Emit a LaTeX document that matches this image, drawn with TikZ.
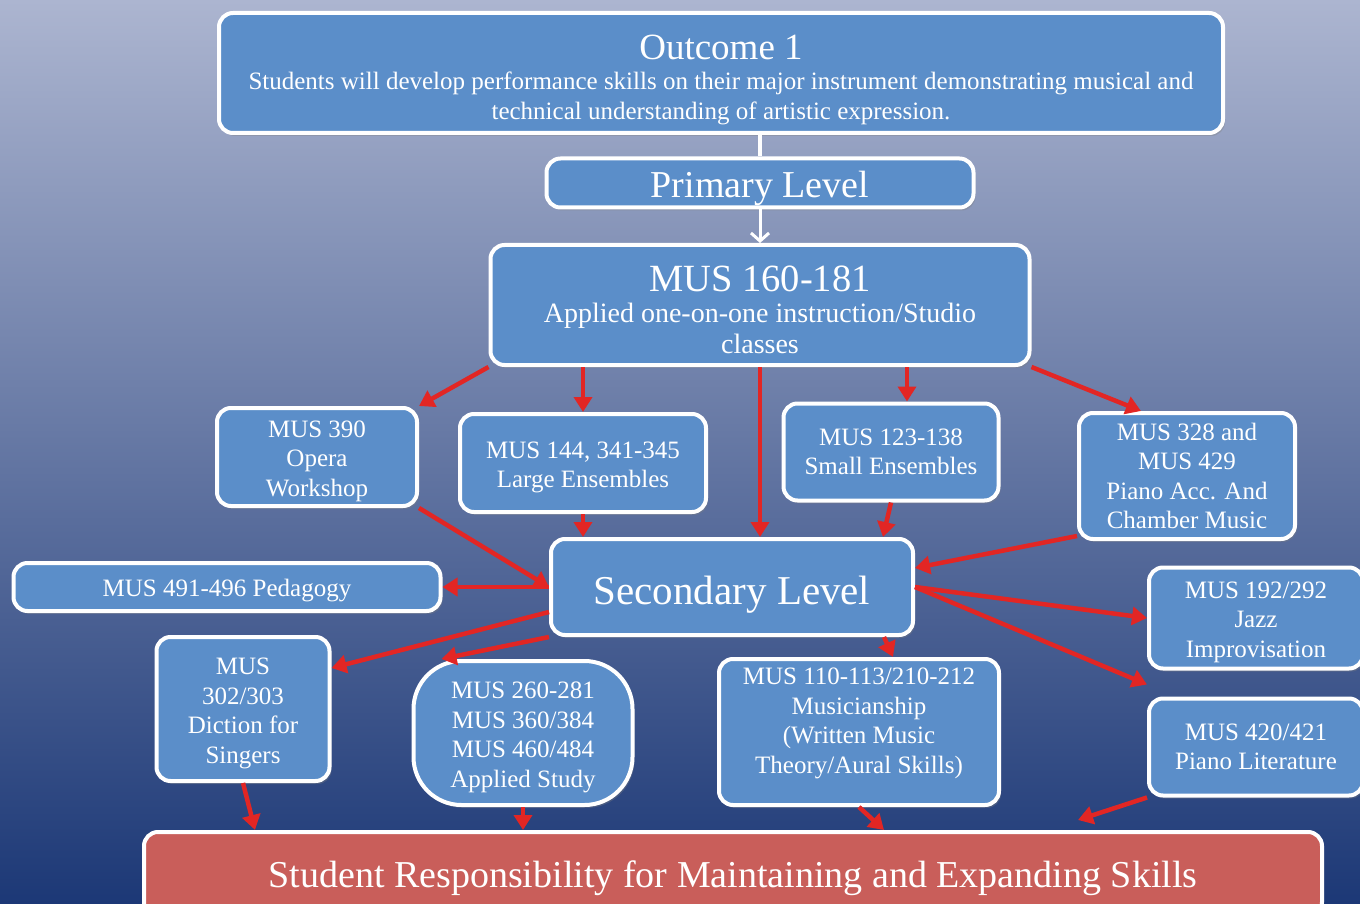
\documentclass[tikz,border=0pt]{standalone}
\usepackage{fontspec}
\setmainfont{Liberation Serif}
\usetikzlibrary{arrows.meta,shadows}
\definecolor{boxblue}{RGB}{91,142,201}
\definecolor{boxred}{RGB}{201,94,90}
\definecolor{arrowred}{RGB}{226,38,36}
\definecolor{bgtop}{RGB}{172,181,208}
\definecolor{bgmid}{RGB}{112,131,177}
\definecolor{bgbot}{RGB}{28,56,118}
\newcommand{\topstrut}{\rule{0pt}{25pt}}

\begin{document}
\begin{tikzpicture}[x=1pt, y=-1pt,
  course/.style={draw=white, line width=4pt, fill=boxblue, rounded corners=14pt,
    text=white, align=center, inner sep=0pt, font=\fontsize{25}{29.5}\selectfont,
    drop shadow={shadow xshift=2pt, shadow yshift=-3pt, opacity=0.35}},
  redarrow/.style={draw=arrowred, line width=4.5pt, -{Triangle[length=15pt,width=18pt]}},
  whiteline/.style={draw=white, line width=4pt}]

  \useasboundingbox (0,0) rectangle (1360,904);
  \clip (0,0) rectangle (1360,904);
  \shade[top color=bgtop, middle color=bgmid, bottom color=bgbot] (0,0) rectangle (1360,904);

  \node[course, minimum width=1004pt, minimum height=120pt, font=\fontsize{25}{30}\selectfont] (outcome) at (721,73)
    {{\fontsize{37}{40}\selectfont\rule{0pt}{38pt}Outcome 1}\\
     Students will develop performance skills on their major instrument demonstrating musical and\\
     technical understanding of artistic expression.};
  \node[course, minimum width=427pt, minimum height=49pt, font=\fontsize{38}{40}\selectfont] (primary) at (760,183) {\rule{0pt}{37pt}Primary Level};
  \node[course, minimum width=539pt, minimum height=120pt, font=\fontsize{28}{31}\selectfont] (applied) at (760,305)
    {{\fontsize{38.5}{40}\selectfont\rule{0pt}{35pt}MUS 160-181}\\ Applied one-on-one instruction/Studio\\ classes};

  \node[course, minimum width=200pt, minimum height=98pt] (opera) at (317,457) {\topstrut MUS 390\\ Opera\\ Workshop};
  \node[course, minimum width=246pt, minimum height=98pt] (large) at (583,463) {\topstrut MUS 144, 341-345\\ Large Ensembles};
  \node[course, minimum width=215pt, minimum height=97pt] (small) at (891,452) {MUS 123-138\\ Small Ensembles};
  \node[course, minimum width=216pt, minimum height=126pt] (piano) at (1187,476) {MUS 328 and\\ MUS 429\\ Piano Acc. And\\ Chamber Music};

  \node[course, minimum width=362pt, minimum height=96pt, font=\fontsize{41}{44}\selectfont] (second) at (732,587) {\rule{0pt}{43pt}Secondary Level};
  \node[course, minimum width=427pt, minimum height=48pt] (pedag) at (227,587) {\topstrut MUS 491-496 Pedagogy};
  \node[course, minimum width=214pt, minimum height=101pt] (jazz) at (1256,618) {\topstrut MUS 192/292\\ Jazz\\ Improvisation};

  \node[course, minimum width=173pt, minimum height=144pt] (diction) at (243,709) {\topstrut MUS\\ 302/303\\ Diction for\\ Singers};
  \node[course, minimum width=219pt, minimum height=144pt, rounded corners=48pt] (study) at (523,733) {\topstrut MUS 260-281\\ MUS 360/384\\ MUS 460/484\\ Applied Study};
  \node[course, minimum width=280pt, minimum height=146pt] (musician) at (859,732)
    {MUS 110-113/210-212\\ Musicianship\\ (Written Music\\ Theory/Aural Skills)\rule[-23pt]{0pt}{23pt}};
  \node[course, minimum width=214pt, minimum height=97pt] (pianolit) at (1256,747) {MUS 420/421\\ Piano Literature};

  \node[course, fill=boxred, minimum width=1178pt, minimum height=84pt, font=\fontsize{38}{40}\selectfont] (resp) at (733,874)
    {\rule{0pt}{36pt}Student Responsibility for Maintaining and Expanding Skills};

  \draw[whiteline] (primary.north |- outcome.south) -- (primary.north);
  \draw[whiteline, line width=3pt, -{Straight Barb[length=8pt,width=18pt]}] (primary.south) -- (applied.north);

  \draw[redarrow] (applied.south west) -- (opera.north east);
  \draw[redarrow] (applied.south -| large.north) -- (large.north);
  \draw[redarrow] (applied.south) -- (second.north -| applied.south);
  \draw[redarrow] ([xshift=147pt]applied.south) -- ([xshift=16pt]small.north);
  \draw[redarrow] (applied.south east) -- ([xshift=-46pt]piano.north);

  \draw[redarrow] (opera.south east) -- (second.west);
  \draw[redarrow] (large.south) -- (large.south |- second.north);
  \draw[redarrow] (small.south) -- ([xshift=151pt]second.north);
  \draw[redarrow] ([yshift=5pt]piano.south west) -- ([yshift=19pt]second.east);

  \draw[redarrow] (second.west) -- (pedag.east);
  \draw[redarrow] ([yshift=-25pt]second.west) -- ([yshift=41pt]diction.east);
  \draw[redarrow] (second.south west) -- ([xshift=30pt]study.north west);
  \draw[redarrow] ([xshift=152pt]second.south) -- ([xshift=34pt]musician.north);
  \draw[redarrow] (second.east) -- (jazz.west);
  \draw[redarrow] (second.east) -- ([yshift=12pt]pianolit.north west);

  \draw[redarrow] (diction.south) -- ([xshift=12pt]diction.south |- resp.north);
  \draw[redarrow] (study.south) -- (study.south |- resp.north);
  \draw[redarrow] (musician.south) -- ([xshift=25pt]musician.south |- resp.north);
  \draw[redarrow] (pianolit.south west) -- ([xshift=345pt,yshift=10pt]resp.north);

\end{tikzpicture}
\end{document}
